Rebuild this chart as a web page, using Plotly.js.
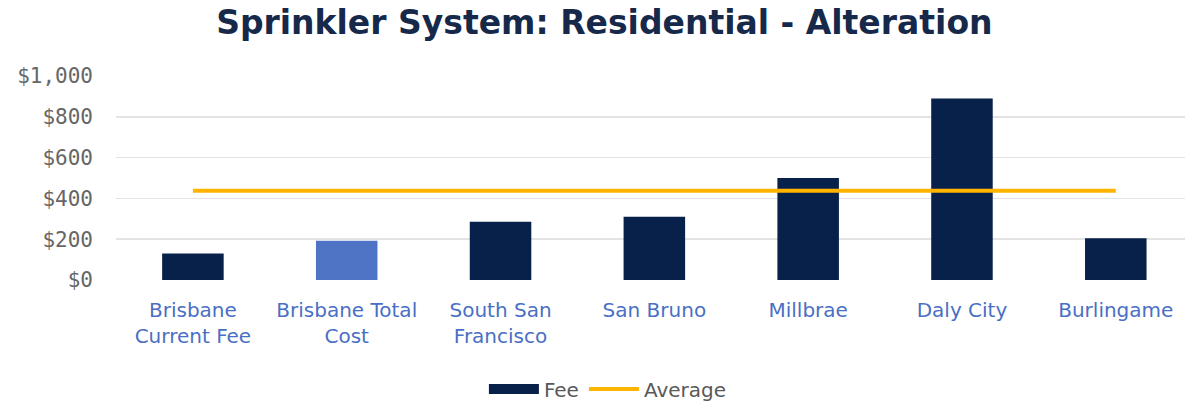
<!DOCTYPE html>
<html>
<head>
<meta charset="utf-8">
<script src="https://cdn.plot.ly/plotly-3.0.1.min.js"></script>
<style>html,body{margin:0;padding:0;background:#fff;}#chart{width:1185px;height:406px;}</style>
</head>
<body>
<div id="chart"></div>
<script>
const categories = ["Brisbane<br>Current Fee", "Brisbane Total<br>Cost", "South San<br>Francisco", "San Bruno", "Millbrae", "Daly City", "Burlingame"];
const feeValues = [130, 192, 285, 310, 500, 890, 205];
const averageValues = [438, 438, 438, 438, 438, 438, 438];
const barColors = ["#08214a", "#4f74c6", "#08214a", "#08214a", "#08214a", "#08214a", "#08214a"];
const yTickValues = [0, 200, 400, 600, 800, 1000];
const yTickLabels = ["$0", "$200", "$400", "$600", "$800", "$1,000"];

const traces = [
  {
    type: "bar", name: "Fee", x: categories, y: feeValues,
    marker: {color: barColors, line: {width: 0}}, width: 0.4,
    showlegend: false
  },
  {
    type: "scatter", mode: "lines", name: "Fee", x: [categories[0]], y: [null],
    line: {color: "#08214a", width: 10}, showlegend: true
  },
  {
    type: "scatter", mode: "lines", name: "Average", x: categories, y: averageValues,
    line: {color: "#ffb400", width: 4}
  }
];

const layout = {
  width: 1185, height: 406,
  margin: {l: 116, r: 0, t: 76, b: 126},
  paper_bgcolor: "#ffffff", plot_bgcolor: "#ffffff",
  title: {
    text: "Sprinkler System: Residential - Alteration",
    font: {family: "DejaVu Sans", size: 33, color: "#17294a", weight: 700},
    x: 0.51, xanchor: "center", xref: "container", y: 0.945, yanchor: "middle", yref: "container"
  },
  xaxis: {
    type: "category", range: [-0.5, 6.45],
    showgrid: false, zeroline: false, showline: false, ticks: "",
    tickfont: {family: "DejaVu Sans", size: 20, color: "#4a6fc4"},
    ticklabelstandoff: 16
  },
  yaxis: {
    range: [0, 1000], tickvals: yTickValues, ticktext: yTickLabels,
    showgrid: true, gridcolor: "#e3e3e3", gridwidth: 1.5, zeroline: false, showline: false, ticks: "",
    tickfont: {family: "DejaVu Sans Mono", size: 21, color: "#666666"},
    ticklabelstandoff: 22
  },
  showlegend: true,
  legend: {
    orientation: "h", xref: "container", yref: "container", x: 0.513, xanchor: "center", y: 0.042, yanchor: "middle",
    font: {family: "DejaVu Sans", size: 20, color: "#595959"}, itemwidth: 50, tracegroupgap: 0
  },
  bargap: 0.6
};

Plotly.newPlot("chart", traces, layout, {displayModeBar: false, staticPlot: true});
</script>
</body>
</html>
